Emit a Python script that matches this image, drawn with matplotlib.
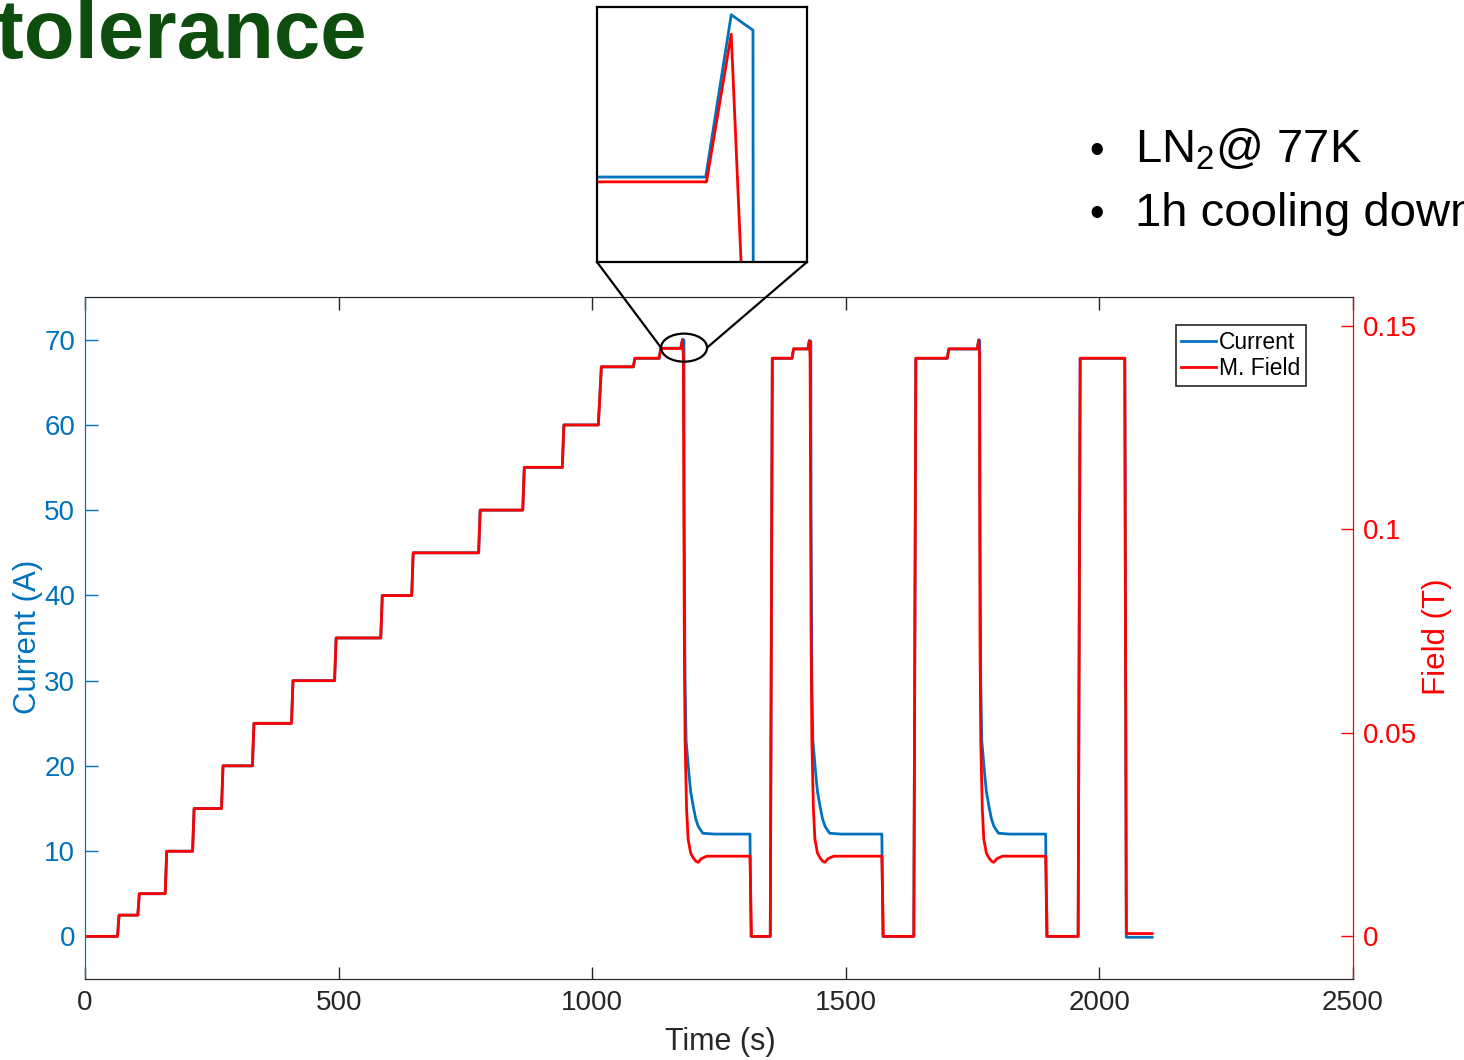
import numpy as np
import matplotlib
matplotlib.use('Agg')
import matplotlib.pyplot as plt
from matplotlib.patches import Ellipse, ConnectionPatch

plt.rcParams['font.family'] = ['Liberation Sans', 'DejaVu Sans']
plt.rcParams['mathtext.fontset'] = 'custom'
plt.rcParams['mathtext.rm'] = 'Liberation Sans'

# measured current (A) vs time (s)
t_current = [0, 64, 67, 104, 107, 158, 161, 212, 215, 269, 272, 330, 333, 407, 410,
             492, 495, 583, 586, 644, 647, 776, 779, 863, 866, 941, 944, 1012, 1018,
             1081, 1084, 1132, 1135, 1174.5, 1177.9, 1180.8,
             1181.2, 1183, 1185, 1190, 1194, 1199, 1204, 1209, 1218, 1240, 1311, 1313,
             1351, 1355, 1394, 1397, 1425, 1428, 1431,
             1431.4, 1433, 1435, 1440, 1444, 1449, 1454, 1459, 1468, 1490, 1571, 1573,
             1634, 1638, 1700, 1703, 1759, 1762, 1764,
             1764.4, 1766, 1768, 1773, 1777, 1782, 1787, 1792, 1801, 1823, 1894, 1896,
             1958, 1962, 2050, 2053, 2104]
current = [0, 0, 2.5, 2.5, 5, 5, 10, 10, 15, 15, 20, 20, 25, 25, 30,
           30, 35, 35, 40, 40, 45, 45, 50, 50, 55, 55, 60, 60, 66.8,
           66.8, 67.8, 67.8, 69, 69, 70.05, 69.95,
           50, 30, 23, 19.5, 17, 15.3, 13.8, 12.9, 12.1, 12.0, 12.0, 0,
           0, 67.8, 67.8, 68.9, 68.9, 69.9, 69.8,
           50, 30, 23, 19.5, 17, 15.3, 13.8, 12.9, 12.1, 12.0, 12.0, 0,
           0, 67.8, 67.8, 68.9, 68.9, 70, 69.9,
           50, 30, 23, 19.5, 17, 15.3, 13.8, 12.9, 12.1, 12.0, 12.0, 0,
           0, 67.8, 67.8, -0.1, -0.1]

# measured magnetic field (T) vs time (s)
t_field = [0, 64, 67, 104, 107, 158, 161, 212, 215, 269, 272, 330, 333, 407, 410,
           492, 495, 583, 586, 644, 647, 776, 779, 863, 866, 941, 944, 1012, 1018,
           1081, 1084, 1132, 1135, 1174.6, 1177.9, 1179.6,
           1181.5, 1183, 1186, 1189, 1194, 1199, 1205, 1209, 1215, 1226, 1311, 1314,
           1351, 1355, 1394, 1397, 1425, 1428, 1429.5,
           1431.5, 1433, 1436, 1439, 1444, 1449, 1455, 1459, 1465, 1476, 1571, 1574,
           1634, 1638, 1700, 1703, 1759, 1762, 1763.5,
           1764.5, 1766, 1769, 1772, 1777, 1782, 1788, 1792, 1798, 1809, 1894, 1897,
           1958, 1962, 2050, 2053, 2104]
field = [0, 0, 0.0052, 0.0052, 0.0105, 0.0105, 0.0209, 0.0209, 0.0314, 0.0314,
         0.0419, 0.0419, 0.0523, 0.0523, 0.0628, 0.0628, 0.0733, 0.0733, 0.0837,
         0.0837, 0.0942, 0.0942, 0.1047, 0.1047, 0.1152, 0.1152, 0.1256, 0.1256,
         0.1399, 0.1399, 0.1420, 0.1420, 0.1444, 0.1444, 0.1464, 0.1424,
         0.0733, 0.0482, 0.0314, 0.0239, 0.0205, 0.0193, 0.0184, 0.0182, 0.0191,
         0.0197, 0.0197, 0,
         0, 0.1420, 0.1420, 0.1443, 0.1443, 0.1462, 0.1424,
         0.0733, 0.0482, 0.0314, 0.0239, 0.0205, 0.0193, 0.0184, 0.0182, 0.0191,
         0.0197, 0.0197, 0,
         0, 0.1420, 0.1420, 0.1443, 0.1443, 0.1464, 0.1424,
         0.0733, 0.0482, 0.0314, 0.0239, 0.0205, 0.0193, 0.0184, 0.0182, 0.0191,
         0.0197, 0.0197, 0,
         0, 0.1420, 0.1420, 0.0007, 0.0007]

# tesla per ampere, links the two y axes
k = 0.0020937

blue = '#0072BD'
red = '#FF0000'
gray = '#262626'

fig = plt.figure(figsize=(14.64, 10.6), dpi=100)
ax = fig.add_axes([0.0581, 0.0764, 0.8661, 0.6434])
ax2 = ax.twinx()

l1, = ax.plot(t_current, current, color=blue, lw=2.0, label='Current')
l2, = ax2.plot(t_field, field, color=red, lw=2.0, label='M. Field')

ax.set_xlim(0, 2500)
ax.set_ylim(-5, 75)
ax2.set_ylim(-5 * k, 75 * k)
ax.set_xticks([0, 500, 1000, 1500, 2000, 2500])
ax.set_yticks(range(0, 71, 10))
ax2.set_yticks([0, 0.05, 0.1, 0.15])
ax2.set_yticklabels(['0', '0.05', '0.1', '0.15'])

ax.tick_params(axis='x', direction='in', length=9, width=1, colors=gray,
               labelsize=20, pad=8, top=True)
ax.tick_params(axis='y', direction='in', length=9, width=1, colors=blue,
               labelsize=20, pad=7)
ax2.tick_params(axis='y', direction='in', length=9, width=1, colors=red,
                labelsize=20, pad=7)
for a in (ax, ax2):
    a.spines['top'].set_color(gray)
    a.spines['bottom'].set_color(gray)
    a.spines['left'].set_color(blue)
    a.spines['right'].set_color(red)

fig.text(28 / 1464, 1 - 637 / 1060, 'Current (A)', rotation=90, ha='center',
         va='center', fontsize=22.5, color=blue)
fig.text(1437 / 1464, 1 - 637 / 1060, 'Field (T)', rotation=90, ha='center',
         va='center', fontsize=22.5, color=red)
fig.text(720 / 1464, 1 - 1042 / 1060, 'Time (s)', ha='center', va='center',
         fontsize=22, color=gray)

leg = ax2.legend(handles=[l1, l2], loc='upper right', bbox_to_anchor=(0.963, 0.959),
                 borderaxespad=0, fontsize=16.5, handlelength=1.5, handletextpad=0.15,
                 borderpad=0.25, labelspacing=0.15, fancybox=False, framealpha=1)
leg.get_frame().set_edgecolor(gray)
leg.get_frame().set_linewidth(1.2)

# zoom marker around the first quench
ell = Ellipse((1181, 69.06), 90.7, 3.29, transform=ax.transData, fill=False,
              edgecolor='black', lw=1.6, zorder=5)
ax2.add_patch(ell)

axins = fig.add_axes([0.4078, 0.7528, 0.1434, 0.2406])
axins.plot(t_current, current, color=blue, lw=2.0)
axins.plot(t_field, np.array(field) / k, color=red, lw=2.0)
axins.set_xlim(1160, 1188)
axins.set_ylim(68.45, 70.1)
axins.set_xticks([])
axins.set_yticks([])
for s in axins.spines.values():
    s.set_linewidth(1.6)
    s.set_color('black')

for xa, xb in [((0, 0), (1135.6, 69.06)), ((1, 0), (1226.4, 69.06))]:
    con = ConnectionPatch(xyA=xa, coordsA=axins.transAxes, xyB=xb,
                          coordsB=ax.transData, color='black', lw=1.6)
    fig.add_artist(con)

# slide text around the chart
fig.text(-0.003, 1 - 58 / 1060, 'tolerance', fontsize=60, fontweight='bold',
         color='#0d4d0d', ha='left', va='baseline')
fig.text(1097 / 1464, 1 - 163 / 1060, '\u2022', fontsize=30, ha='center',
         va='baseline', color='black')
fig.text(1135 / 1464, 1 - 163 / 1060, r'LN$_\mathregular{2}$@ 77K', fontsize=34,
         ha='left', va='baseline', color='black')
fig.text(1097 / 1464, 1 - 226 / 1060, '\u2022', fontsize=30, ha='center',
         va='baseline', color='black')
fig.text(1135 / 1464, 1 - 226 / 1060, '1h cooling down', fontsize=34,
         ha='left', va='baseline', color='black')

plt.savefig('out.png', dpi=100)
